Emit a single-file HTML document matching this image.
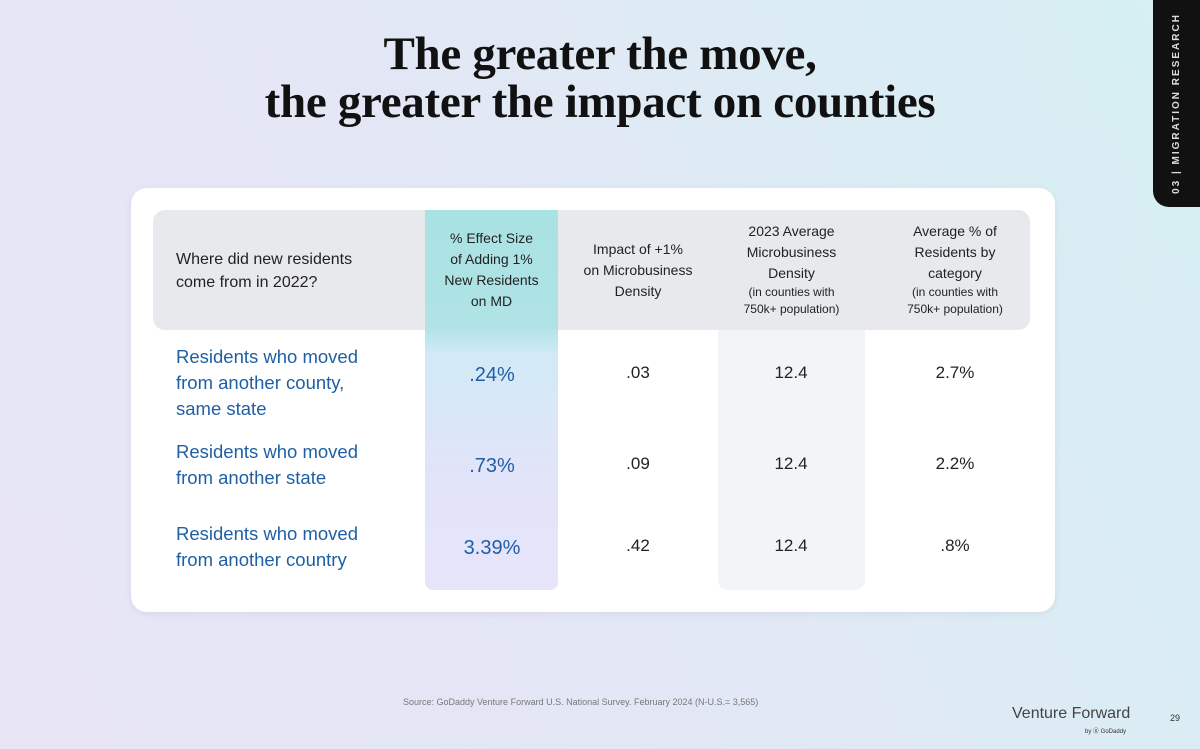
<!DOCTYPE html>
<html><head><meta charset="utf-8"><style>
*{margin:0;padding:0;box-sizing:border-box}
body{width:1200px;height:749px;overflow:hidden;position:relative;font-family:"Liberation Sans",sans-serif;
background:linear-gradient(65deg,#e8e5f6 0%,#e3e7f5 45%,#d5f0f3 100%);}
.abs{position:absolute}
h1{position:absolute;left:0;width:1200px;top:30px;text-align:center;font-family:"Liberation Serif",serif;font-weight:bold;font-size:47px;line-height:48px;color:#111;letter-spacing:-0.3px}
.tab{left:1153px;top:0;width:47px;height:207px;background:#111;border-bottom-left-radius:16px}
.tabt{left:1153px;top:0;width:47px;height:207px;display:flex;align-items:center;justify-content:center}
.tabt span{transform:rotate(-90deg);white-space:nowrap;color:#ddd;font-size:10px;font-weight:bold;letter-spacing:2px}
.card{left:131px;top:188px;width:924px;height:424px;background:#fff;border-radius:16px;box-shadow:0 2px 8px rgba(0,0,0,0.06)}
.hdr{left:153px;top:210px;width:877px;height:120px;background:#e8e9ec;border-radius:12px}
.hl{left:425px;top:210px;width:133px;height:380px;border-radius:0 0 8px 8px;background:linear-gradient(180deg,#a9e2e3 0%,#b0e3e6 31%,#d2eaf6 38%,#e2e4f9 70%,#e6e4fa 100%)}
.c4{left:718px;top:330px;width:147px;height:260px;background:#f3f4f6;border-radius:0 0 10px 10px}
.h{position:absolute;text-align:center;font-size:14px;line-height:21px;color:#222}
.h small{font-size:12px;line-height:17px;display:block}
.rl{position:absolute;left:176px;font-size:18.5px;line-height:26px;color:#1f5fa6}
.v{position:absolute;text-align:center;font-size:17px;color:#222;width:140px}
.b{color:#1f5fa6;font-size:20px}
</style></head><body>
<h1>The greater the move,<br>the greater the impact on counties</h1>
<div class="abs tab"></div>
<div class="abs tabt"><span>03 | MIGRATION RESEARCH</span></div>
<div class="abs card"></div>
<div class="abs hdr"></div>
<div class="abs hl"></div>
<div class="abs c4"></div>
<div class="h" style="left:176px;top:248px;text-align:left;font-size:16px;line-height:23px">Where did new residents<br>come from in 2022?</div>
<div class="h" style="left:425px;width:133px;top:228px">% Effect Size<br>of Adding 1%<br>New Residents<br>on MD</div>
<div class="h" style="left:568px;width:140px;top:239px">Impact of +1%<br>on Microbusiness<br>Density</div>
<div class="h" style="left:718px;width:147px;top:221px">2023 Average<br>Microbusiness<br>Density<small>(in counties with<br>750k+ population)</small></div>
<div class="h" style="left:880px;width:150px;top:221px">Average % of<br>Residents by<br>category<small>(in counties with<br>750k+ population)</small></div>
<div class="rl" style="top:344px">Residents who moved<br>from another county,<br>same state</div>
<div class="rl" style="top:439px">Residents who moved<br>from another state</div>
<div class="rl" style="top:521px">Residents who moved<br>from another country</div>
<div class="v b" style="left:422px;top:364px">.24%</div>
<div class="v b" style="left:422px;top:455px">.73%</div>
<div class="v b" style="left:422px;top:537px">3.39%</div>
<div class="v" style="left:568px;top:363px">.03</div>
<div class="v" style="left:568px;top:454px">.09</div>
<div class="v" style="left:568px;top:536px">.42</div>
<div class="v" style="left:721px;top:363px">12.4</div>
<div class="v" style="left:721px;top:454px">12.4</div>
<div class="v" style="left:721px;top:536px">12.4</div>
<div class="v" style="left:885px;top:363px">2.7%</div>
<div class="v" style="left:885px;top:454px">2.2%</div>
<div class="v" style="left:885px;top:536px">.8%</div>
<div class="abs" style="left:403px;top:697px;font-size:9px;color:#777">Source: GoDaddy Venture Forward U.S. National Survey. February 2024 (N-U.S.= 3,565)</div>
<div class="abs" style="left:1012px;top:705px;font-size:16px;color:#444">Venture Forward</div>
<div class="abs" style="left:1085px;top:726px;font-size:6px;color:#333">by ⓖ GoDaddy</div>
<div class="abs" style="left:1170px;top:713px;font-size:9px;color:#333">29</div>
</body></html>
